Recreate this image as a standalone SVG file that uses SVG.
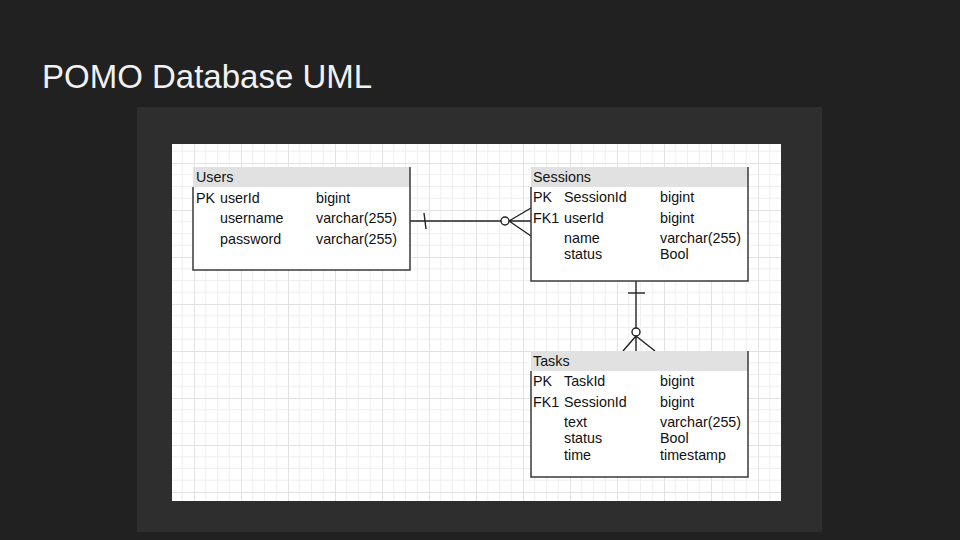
<svg xmlns="http://www.w3.org/2000/svg" width="960" height="540" viewBox="0 0 960 540">
  <defs>
    <pattern id="grid" patternUnits="userSpaceOnUse" x="194" y="163" width="47" height="47">
      <rect width="47" height="47" fill="#ffffff"/>
      <path d="M11.75 0V47M23.5 0V47M35.25 0V47M0 11.75H47M0 23.5H47M0 35.25H47" stroke="#efefef" stroke-width="1" fill="none"/>
      <path d="M0.5 0V47M0 0.5H47" stroke="#e2e2e2" stroke-width="1" fill="none"/>
    </pattern>
  </defs>
  <style>
    .t { font-family: "Liberation Sans", Arial, sans-serif; font-size: 14.3px; fill: #111; }
    .hdr { fill: #e1e1e1; }
    .box { fill: none; stroke: #3a3a3a; stroke-width: 1.5; }
    .conn { fill: none; stroke: #222; stroke-width: 1.4; }
  </style>
  <rect width="960" height="540" fill="#212121"/>
  <text x="42" y="88" font-family="'Liberation Sans', Arial, sans-serif" font-size="33" fill="#f2f2f2">POMO Database UML</text>
  <rect x="137" y="107" width="685" height="425" fill="#2e2e2e"/>
  <rect x="172" y="144" width="609" height="357" fill="url(#grid)"/>

  <g id="connectors">
    <path class="conn" d="M410 221H501"/>
    <path class="conn" d="M424 213L426 229"/>
    <circle class="conn" cx="505" cy="221" r="4" fill="#fff"/>
    <path class="conn" d="M509 221L531 208M509 221H531M509 221L531 236"/>
    <path class="conn" d="M636 281V328"/>
    <path class="conn" d="M628 293H645"/>
    <circle class="conn" cx="636" cy="332" r="4" fill="#fff"/>
    <path class="conn" d="M636 336L623 351M636 336V351M636 336L655 351"/>
  </g>

  <g id="users">
    <rect x="193" y="167" width="217" height="103" fill="#fff"/>
    <rect class="hdr" x="193" y="167" width="217" height="20"/>
    <path class="box" d="M193 187V270H410V167"/>
    <text class="t" x="196" y="182">Users</text>
    <text class="t" x="196" y="203">PK</text>
    <text class="t" x="220" y="203">userId</text>
    <text class="t" x="316" y="203">bigint</text>
    <text class="t" x="220" y="223">username</text>
    <text class="t" x="316" y="223">varchar(255)</text>
    <text class="t" x="220" y="244">password</text>
    <text class="t" x="316" y="244">varchar(255)</text>
  </g>

  <g id="sessions">
    <rect x="531" y="167" width="217" height="114" fill="#fff"/>
    <rect class="hdr" x="531" y="167" width="217" height="20"/>
    <path class="box" d="M531 187V281H748V167"/>
    <text class="t" x="533" y="182">Sessions</text>
    <text class="t" x="533" y="202">PK</text>
    <text class="t" x="564" y="202">SessionId</text>
    <text class="t" x="660" y="202">bigint</text>
    <text class="t" x="533" y="223">FK1</text>
    <text class="t" x="564" y="223">userId</text>
    <text class="t" x="660" y="223">bigint</text>
    <text class="t" x="564" y="243">name</text>
    <text class="t" x="660" y="243">varchar(255)</text>
    <text class="t" x="564" y="259">status</text>
    <text class="t" x="660" y="259">Bool</text>
  </g>

  <g id="tasks">
    <rect x="531" y="351" width="217" height="126" fill="#fff"/>
    <rect class="hdr" x="531" y="351" width="217" height="20"/>
    <path class="box" d="M531 371V477H748V351"/>
    <text class="t" x="533" y="366">Tasks</text>
    <text class="t" x="533" y="386">PK</text>
    <text class="t" x="564" y="386">TaskId</text>
    <text class="t" x="660" y="386">bigint</text>
    <text class="t" x="533" y="407">FK1</text>
    <text class="t" x="564" y="407">SessionId</text>
    <text class="t" x="660" y="407">bigint</text>
    <text class="t" x="564" y="427">text</text>
    <text class="t" x="660" y="427">varchar(255)</text>
    <text class="t" x="564" y="443">status</text>
    <text class="t" x="660" y="443">Bool</text>
    <text class="t" x="564" y="460">time</text>
    <text class="t" x="660" y="460">timestamp</text>
  </g>
</svg>
